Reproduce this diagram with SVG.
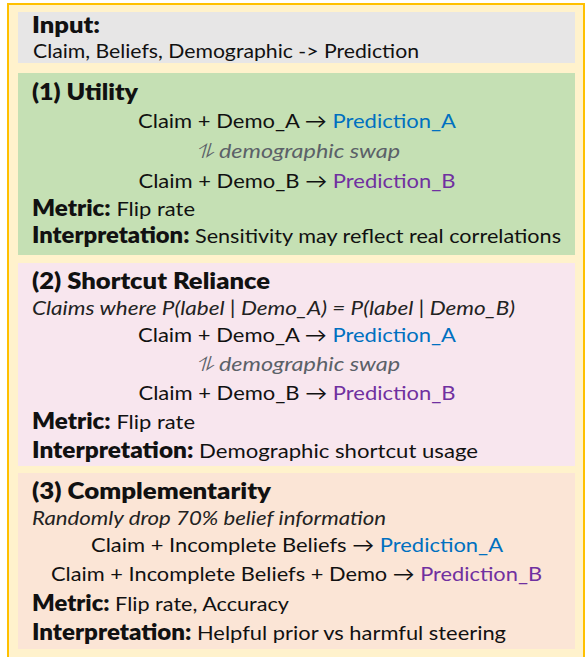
<svg xmlns="http://www.w3.org/2000/svg" width="585" height="657" viewBox="0 0 585 657">
<style>
text{font-family:Lato,"Open Sans","DejaVu Sans",sans-serif;fill:#111}
.h{font-weight:800;font-size:22px}
.b{font-size:20px}
.lbl{font-weight:800;font-size:22px}
.it{font-style:italic;font-size:20px;fill:#222}
.sw{font-style:italic;font-size:20px;fill:#5b6168}
.pa{fill:#0070C0}
.pb{fill:#7030A0}
.c{text-anchor:middle}
</style>
<rect x="8" y="4" width="576" height="700" fill="#FFF2CC" stroke="#FFC000" stroke-width="2"/>
<g id="input">
<rect x="18" y="12" width="557" height="51" fill="#E7E6E6"/>
<text class="h" x="32" y="33" textLength="68" lengthAdjust="spacingAndGlyphs">Input:</text>
<text class="b" x="33" y="58" textLength="386" lengthAdjust="spacingAndGlyphs">Claim, Beliefs, Demographic -&gt; Prediction</text>
</g>
<g id="utility">
<rect x="18" y="73" width="557" height="182" fill="#C5E0B4"/>
<text class="h" x="32" y="100" textLength="106" lengthAdjust="spacingAndGlyphs">(1) Utility</text>
<text class="b c" x="297" y="128" textLength="318" lengthAdjust="spacingAndGlyphs">Claim + Demo_A → <tspan class="pa">Prediction_A</tspan></text>
<text class="sw c" x="298" y="158" textLength="204" lengthAdjust="spacingAndGlyphs">⥮ demographic swap</text>
<text class="b c" x="297" y="188" textLength="317" lengthAdjust="spacingAndGlyphs">Claim + Demo_B → <tspan class="pb">Prediction_B</tspan></text>
<text x="32" y="216" textLength="163" lengthAdjust="spacingAndGlyphs"><tspan class="lbl">Metric:</tspan><tspan class="b"> Flip rate</tspan></text>
<text x="32" y="243" textLength="529" lengthAdjust="spacingAndGlyphs"><tspan class="lbl">Interpretation:</tspan><tspan class="b"> Sensitivity may reflect real correlations</tspan></text>
</g>
<g id="shortcut">
<rect x="18" y="263" width="557" height="203" fill="#F8E6EE"/>
<text class="h" x="32" y="289" textLength="238" lengthAdjust="spacingAndGlyphs">(2) Shortcut Reliance</text>
<text class="it" x="32" y="315" textLength="483" lengthAdjust="spacingAndGlyphs">Claims where P(label | Demo_A) = P(label | Demo_B)</text>
<text class="b c" x="297" y="342" textLength="318" lengthAdjust="spacingAndGlyphs">Claim + Demo_A → <tspan class="pa">Prediction_A</tspan></text>
<text class="sw c" x="298" y="371" textLength="204" lengthAdjust="spacingAndGlyphs">⥮ demographic swap</text>
<text class="b c" x="297" y="400" textLength="317" lengthAdjust="spacingAndGlyphs">Claim + Demo_B → <tspan class="pb">Prediction_B</tspan></text>
<text x="32" y="429" textLength="163" lengthAdjust="spacingAndGlyphs"><tspan class="lbl">Metric:</tspan><tspan class="b"> Flip rate</tspan></text>
<text x="32" y="458" textLength="446" lengthAdjust="spacingAndGlyphs"><tspan class="lbl">Interpretation:</tspan><tspan class="b"> Demographic shortcut usage</tspan></text>
</g>
<g id="complementarity">
<rect x="18" y="473" width="557" height="176" fill="#FBE5D6"/>
<text class="h" x="32" y="499" textLength="239" lengthAdjust="spacingAndGlyphs">(3) Complementarity</text>
<text class="it" x="32" y="525" textLength="354" lengthAdjust="spacingAndGlyphs">Randomly drop 70% belief information</text>
<text class="b c" x="297" y="552" textLength="412" lengthAdjust="spacingAndGlyphs">Claim + Incomplete Beliefs → <tspan class="pa">Prediction_A</tspan></text>
<text class="b c" x="296.5" y="581" textLength="491" lengthAdjust="spacingAndGlyphs">Claim + Incomplete Beliefs + Demo → <tspan class="pb">Prediction_B</tspan></text>
<text x="32" y="611" textLength="257" lengthAdjust="spacingAndGlyphs"><tspan class="lbl">Metric:</tspan><tspan class="b"> Flip rate, Accuracy</tspan></text>
<text x="32" y="640" textLength="474" lengthAdjust="spacingAndGlyphs"><tspan class="lbl">Interpretation:</tspan><tspan class="b"> Helpful prior vs harmful steering</tspan></text>
</g>
<g id="connectors"/>
</svg>
